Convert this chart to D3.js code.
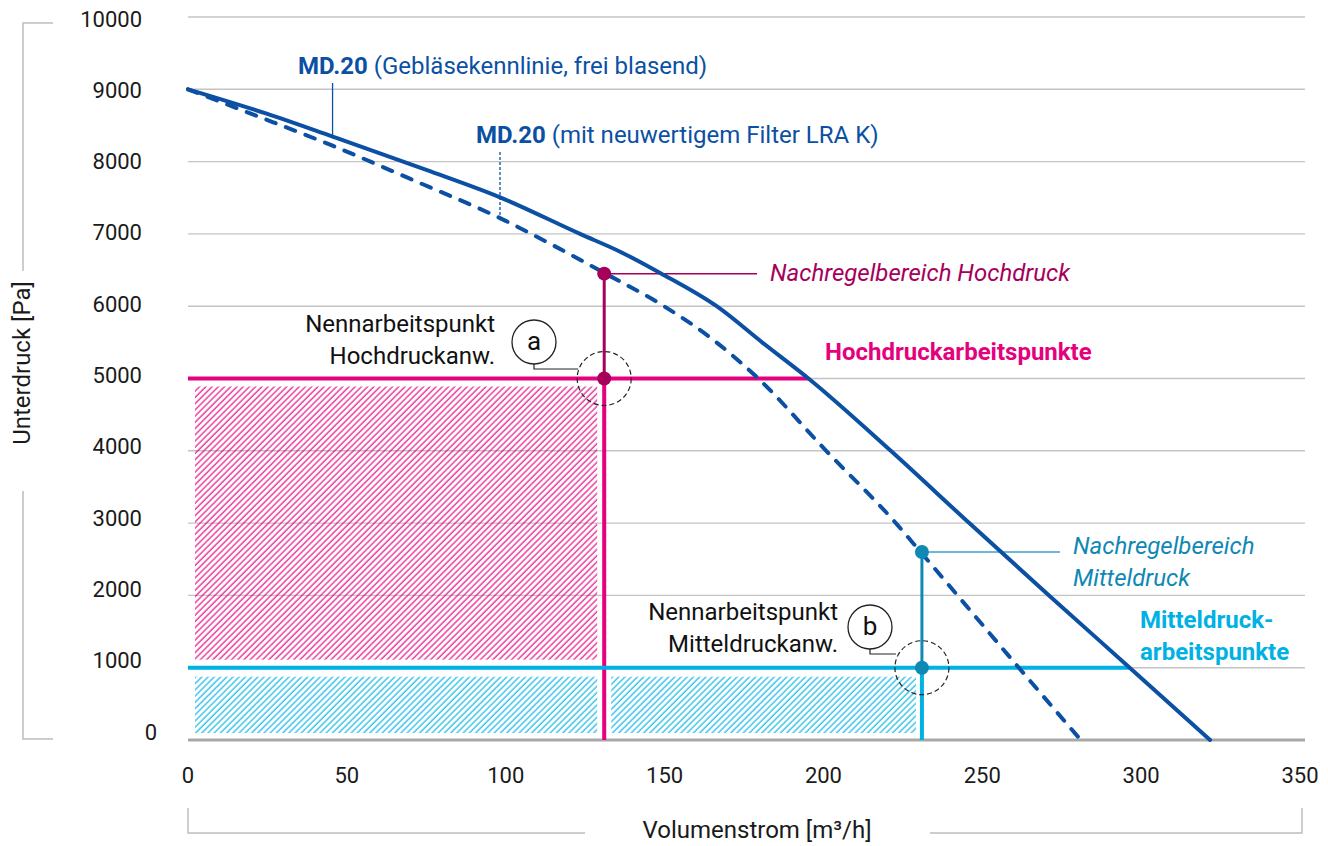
<!DOCTYPE html>
<html>
<head>
<meta charset="utf-8">
<script src="https://cdn.jsdelivr.net/npm/d3@7"></script>
<style>
  html, body { margin: 0; padding: 0; background: #fff; }
  svg { display: block; font-family: Roboto, "Noto Sans", Arial, sans-serif; }
</style>
</head>
<body>
<svg id="chart" width="1328" height="846"></svg>
<script>
// ---------------- DATA ----------------
const yTicks = [0, 1000, 2000, 3000, 4000, 5000, 6000, 7000, 8000, 9000, 10000];
const xTicks = [0, 50, 100, 150, 200, 250, 300, 350];

// MD.20 Gebläsekennlinie, frei blasend (solid)
const solidFlow     = [0, 25, 45.5, 75, 98.2, 123.4, 136, 148.6, 166.4, 181, 195.3, 221.2, 245.9, 271, 296.4, 321.7];
const solidPressure = [9000, 8660, 8346, 7885, 7506, 7000, 6754, 6460, 6000, 5490, 5000, 4000, 3000, 2000, 1000, 0];

// MD.20 mit neuwertigem Filter LRA K (dashed)
const dashedFlow     = [0, 20, 45.5, 70, 100, 115, 131, 150, 165, 179.5, 200, 223, 230.6, 261.5, 281];
const dashedPressure = [9000, 8660, 8220, 7760, 7180, 6840, 6460, 5995, 5545, 5000, 4040, 2990, 2600, 1000, 0];

// Hochdruck working point
const hpFlow = 131, hpPressure = 5000, hpMaxPressure = 6450, hpLineEnd = 195.3;
// Mitteldruck working point
const mpFlow = 231, mpPressure = 1000, mpMaxPressure = 2600, mpLineEnd = 296.4;

// label pointer positions (flow values on curves)
const solidPointerFlow = 45.5;
const dashedPointerFlow = 98.2;

// ---------------- COLORS ----------------
const BLUE = "#0b50a3";
const PINK = "#e5007d";
const MAGENTA = "#a6005b";
const CYAN = "#00b1e4";
const TEAL = "#0f88b4";
const TEAL_LIGHT = "#3aa2c9";
const GRID = "#c4c4c4";

// ---------------- SCALES ----------------
const svg = d3.select("#chart");
const x = d3.scaleLinear().domain([0, 350]).range([188, 1300]);
const y = d3.scaleLinear().domain([0, 10000]).range([740, 17]);
const gridRight = 1305;

function interp(xs, ys, v) {
  for (let i = 0; i < xs.length - 1; i++) {
    if (v >= xs[i] && v <= xs[i + 1]) {
      const t = (v - xs[i]) / (xs[i + 1] - xs[i]);
      return ys[i] + t * (ys[i + 1] - ys[i]);
    }
  }
  return ys[ys.length - 1];
}

// ---------------- PATTERNS ----------------
const defs = svg.append("defs");
function hatch(id, color) {
  const p = defs.append("pattern")
    .attr("id", id)
    .attr("patternUnits", "userSpaceOnUse")
    .attr("width", 4.4).attr("height", 10)
    .attr("patternTransform", "rotate(45)");
  p.append("line")
    .attr("x1", 1).attr("y1", 0).attr("x2", 1).attr("y2", 10)
    .attr("stroke", color).attr("stroke-width", 1.4)
    .attr("stroke-opacity", 0.8);
}
hatch("hatchPink", PINK);
hatch("hatchCyan", CYAN);

// ---------------- GRID ----------------
svg.append("g").selectAll("line")
  .data(yTicks.filter(d => d > 0))
  .join("line")
  .attr("x1", x(0)).attr("x2", gridRight)
  .attr("y1", d => y(d)).attr("y2", d => y(d))
  .attr("stroke", GRID).attr("stroke-width", 1.4);

// Y tick labels
svg.append("g").selectAll("text")
  .data(yTicks)
  .join("text")
  .attr("x", 142)
  .attr("dx", d => d === 0 ? 15 : 0)
  .attr("y", d => y(d) - 8 + d * 0.001)
  .attr("text-anchor", "end")
  .attr("dominant-baseline", "central")
  .attr("font-size", 22)
  .attr("fill", "#1a1a1a")
  .text(d => d);

// X tick labels
svg.append("g").selectAll("text")
  .data(xTicks)
  .join("text")
  .attr("x", d => x(d))
  .attr("y", 775)
  .attr("text-anchor", "middle")
  .attr("dominant-baseline", "central")
  .attr("font-size", 22)
  .attr("fill", "#1a1a1a")
  .text(d => d);

// Axis titles + brackets
svg.append("text")
  .attr("transform", "translate(22,363) rotate(-90)")
  .attr("text-anchor", "middle")
  .attr("dominant-baseline", "central")
  .attr("font-size", 24)
  .attr("fill", "#1a1a1a")
  .text("Unterdruck [Pa]");

svg.append("path")
  .attr("d", "M53,23 H23 V271 M23,491 V739 H53")
  .attr("fill", "none").attr("stroke", "#bdbdbd").attr("stroke-width", 1.5);

svg.append("text")
  .attr("x", 757).attr("y", 830)
  .attr("text-anchor", "middle")
  .attr("dominant-baseline", "central")
  .attr("font-size", 24)
  .attr("fill", "#1a1a1a")
  .text("Volumenstrom [m³/h]");

svg.append("path")
  .attr("d", "M188,808 V833 H585 M930,833 H1302 V808")
  .attr("fill", "none").attr("stroke", "#bdbdbd").attr("stroke-width", 1.5);

// ---------------- HATCHED AREAS ----------------
const areas = [
  { x0: 0, x1: hpFlow, y0: mpPressure, y1: hpPressure, fill: "url(#hatchPink)", inset: [7, 7, 8, 8] },
  { x0: 0, x1: hpFlow, y0: 0, y1: mpPressure, fill: "url(#hatchCyan)", inset: [7, 7, 7, 9] },
  { x0: hpFlow, x1: mpFlow, y0: 0, y1: mpPressure, fill: "url(#hatchCyan)", inset: [7, 6, 7, 9] }
];
svg.append("g").selectAll("rect")
  .data(areas)
  .join("rect")
  .attr("x", d => x(d.x0) + d.inset[0])
  .attr("width", d => x(d.x1) - x(d.x0) - d.inset[0] - d.inset[1])
  .attr("y", d => y(d.y1) + d.inset[3])
  .attr("height", d => y(d.y0) - y(d.y1) - d.inset[2] - d.inset[3])
  .attr("fill", d => d.fill);

// baseline
svg.append("line")
  .attr("x1", x(0)).attr("x2", gridRight)
  .attr("y1", y(0)).attr("y2", y(0))
  .attr("stroke", "#a8a8a8").attr("stroke-width", 3);

// ---------------- WORKING POINT LINES ----------------
const g = svg.append("g");
// Hochdruck
g.append("line").attr("x1", x(0)).attr("x2", x(hpLineEnd))
  .attr("y1", y(hpPressure)).attr("y2", y(hpPressure))
  .attr("stroke", PINK).attr("stroke-width", 4);
g.append("line").attr("x1", x(hpFlow)).attr("x2", x(hpFlow))
  .attr("y1", y(0)).attr("y2", y(hpPressure))
  .attr("stroke", PINK).attr("stroke-width", 4);
g.append("line").attr("x1", x(hpFlow)).attr("x2", x(hpFlow))
  .attr("y1", y(hpPressure)).attr("y2", y(hpMaxPressure))
  .attr("stroke", MAGENTA).attr("stroke-width", 3);
g.append("line").attr("x1", x(hpFlow)).attr("x2", 757)
  .attr("y1", y(hpMaxPressure)).attr("y2", y(hpMaxPressure))
  .attr("stroke", MAGENTA).attr("stroke-width", 1.5);
// Mitteldruck
g.append("line").attr("x1", x(0)).attr("x2", x(mpLineEnd))
  .attr("y1", y(mpPressure)).attr("y2", y(mpPressure))
  .attr("stroke", CYAN).attr("stroke-width", 4);
g.append("line").attr("x1", x(mpFlow)).attr("x2", x(mpFlow))
  .attr("y1", y(0)).attr("y2", y(mpPressure))
  .attr("stroke", CYAN).attr("stroke-width", 4);
g.append("line").attr("x1", x(mpFlow)).attr("x2", x(mpFlow))
  .attr("y1", y(mpPressure)).attr("y2", y(mpMaxPressure))
  .attr("stroke", TEAL).attr("stroke-width", 3);
g.append("line").attr("x1", x(mpFlow)).attr("x2", 1060)
  .attr("y1", y(mpMaxPressure)).attr("y2", y(mpMaxPressure))
  .attr("stroke", TEAL_LIGHT).attr("stroke-width", 1.5);

// ---------------- CURVES ----------------
const line = d3.line().x(d => x(d[0])).y(d => y(d[1])).curve(d3.curveMonotoneX);
svg.append("path")
  .datum(dashedFlow.map((f, i) => [f, dashedPressure[i]]))
  .attr("d", line)
  .attr("fill", "none").attr("stroke", BLUE).attr("stroke-width", 4)
  .attr("stroke-linecap", "round")
  .attr("stroke-dasharray", "10 11");
svg.append("path")
  .datum(solidFlow.map((f, i) => [f, solidPressure[i]]))
  .attr("d", line)
  .attr("fill", "none").attr("stroke", BLUE).attr("stroke-width", 4)
  .attr("stroke-linecap", "round");

// curve labels + pointers
svg.append("line")
  .attr("x1", x(solidPointerFlow)).attr("x2", x(solidPointerFlow))
  .attr("y1", 83).attr("y2", y(interp(solidFlow, solidPressure, solidPointerFlow)))
  .attr("stroke", BLUE).attr("stroke-width", 1.3);
svg.append("line")
  .attr("x1", x(dashedPointerFlow)).attr("x2", x(dashedPointerFlow))
  .attr("y1", 152).attr("y2", y(interp(dashedFlow, dashedPressure, dashedPointerFlow)))
  .attr("stroke", BLUE).attr("stroke-width", 1.3).attr("stroke-dasharray", "3 2");

const t1 = svg.append("text").attr("x", 298).attr("y", 74).attr("font-size", 24).attr("fill", BLUE);
t1.append("tspan").attr("font-weight", "bold").text("MD.20");
t1.append("tspan").text(" (Gebläsekennlinie, frei blasend)");
const t2 = svg.append("text").attr("x", 476).attr("y", 143).attr("font-size", 24).attr("fill", BLUE);
t2.append("tspan").attr("font-weight", "bold").text("MD.20");
t2.append("tspan").text(" (mit neuwertigem Filter LRA K)");

// ---------------- DOTS ----------------
svg.append("g").selectAll("circle")
  .data([[hpFlow, hpMaxPressure, MAGENTA], [hpFlow, hpPressure, MAGENTA], [mpFlow, mpMaxPressure, TEAL], [mpFlow, mpPressure, TEAL]])
  .join("circle")
  .attr("cx", d => x(d[0])).attr("cy", d => y(d[1])).attr("r", 7)
  .attr("fill", d => d[2]);

// ---------------- ANNOTATIONS ----------------
const ann = [
  { flow: hpFlow, p: hpPressure, letter: "a", cx: 534, cy: 342, lines: ["Nennarbeitspunkt", "Hochdruckanw."], tx: 495, ty: [324, 356] },
  { flow: mpFlow, p: mpPressure, letter: "b", cx: 870, cy: 627, lines: ["Nennarbeitspunkt", "Mitteldruckanw."], tx: 838, ty: [612, 644] }
];
ann.forEach(a => {
  const cx = x(a.flow), cy = y(a.p);
  svg.append("circle").attr("cx", cx).attr("cy", cy).attr("r", 27)
    .attr("fill", "none").attr("stroke", "#222").attr("stroke-width", 1.2)
    .attr("stroke-dasharray", "5 3");
  svg.append("path")
    .attr("d", `M${a.cx},${a.cy + 22} V${a.cy + 27} H${cx - 26}`)
    .attr("fill", "none").attr("stroke", "#222").attr("stroke-width", 1.2);
  svg.append("circle").attr("cx", a.cx).attr("cy", a.cy).attr("r", 22)
    .attr("fill", "#fff").attr("stroke", "#222").attr("stroke-width", 1.3);
  svg.append("text").attr("x", a.cx).attr("y", a.cy - 1)
    .attr("text-anchor", "middle").attr("dominant-baseline", "central")
    .attr("font-size", 26).attr("fill", "#111").text(a.letter);
  a.lines.forEach((l, i) => {
    svg.append("text").attr("x", a.tx).attr("y", a.ty[i])
      .attr("text-anchor", "end").attr("dominant-baseline", "central")
      .attr("font-size", 24).attr("fill", "#111").text(l);
  });
});

// Region labels
svg.append("text").attr("x", 770).attr("y", 273).attr("dominant-baseline", "central")
  .attr("font-size", 24).attr("font-style", "italic").attr("fill", MAGENTA)
  .text("Nachregelbereich Hochdruck");
svg.append("text").attr("x", 825).attr("y", 352).attr("dominant-baseline", "central")
  .attr("font-size", 24).attr("font-weight", "bold").attr("fill", PINK)
  .text("Hochdruckarbeitspunkte");
["Nachregelbereich", "Mitteldruck"].forEach((l, i) => {
  svg.append("text").attr("x", 1073).attr("y", 546 + i * 32).attr("dominant-baseline", "central")
    .attr("font-size", 24).attr("font-style", "italic").attr("fill", TEAL).text(l);
});
["Mitteldruck-", "arbeitspunkte"].forEach((l, i) => {
  svg.append("text").attr("x", 1140).attr("y", 620 + i * 32).attr("dominant-baseline", "central")
    .attr("font-size", 24).attr("font-weight", "bold").attr("fill", CYAN).text(l);
});
</script>
</body>
</html>
